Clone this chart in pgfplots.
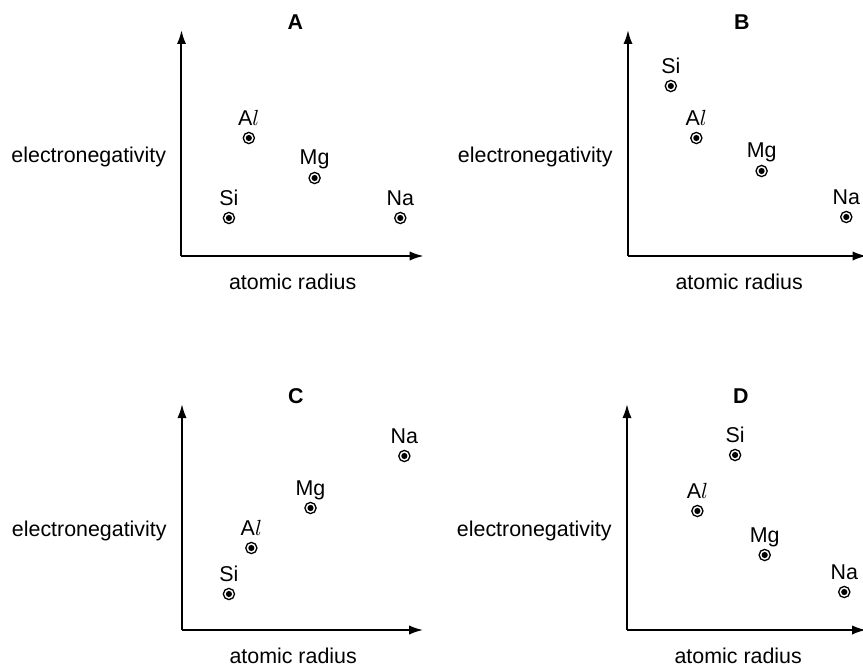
\documentclass[border=0pt]{standalone}
\usepackage{fontspec}
\setmainfont{Liberation Sans}
\usepackage{pgfplots}
\pgfplotsset{compat=1.18}
\usetikzlibrary{arrows.meta}

% ring with a filled dot in the middle
\pgfdeclareplotmark{ringdot}{%
  \pgfpathcircle{\pgfpointorigin}{\pgfplotmarksize}\pgfusepathqstroke
  \pgfpathcircle{\pgfpointorigin}{0.55\pgfplotmarksize}\pgfusepathqfill}

\newcommand{\lbl}{\fontsize{10.7}{12}\selectfont}

\pgfplotsset{
  panel/.style={
    scale only axis, width=117.5pt, height=112.5pt,
    xmin=0, xmax=235, ymin=0, ymax=225,
    axis lines=none, xtick=\empty, ytick=\empty,
    clip=false,
  },
  elem/.style={
    only marks, black, mark=ringdot, mark size=2.8pt,
    mark options={line width=0.65pt},
    point meta=explicit symbolic, nodes near coords,
    every node near coord/.append style={anchor=base, yshift=6.5pt,
      inner sep=0pt, font=\lbl, black},
  },
}

% axes with arrows, title and the two axis labels
\newcommand{\decor}[2]{%
  \draw[line width=1pt, -{Latex[length=7pt,width=4.6pt]}]
    (axis cs:0,0) -- (axis cs:#2,0);
  \draw[line width=1pt, -{Latex[length=7pt,width=4.6pt]}]
    (axis cs:0,0) -- (axis cs:0,226);
  \node[anchor=base, font=\lbl\bfseries, inner sep=0pt, yshift=1pt] at (axis cs:111.5,225) {#1};
  \node[anchor=east, font=\lbl, inner sep=0pt, xshift=-7.5pt] at (axis cs:0,99) {electronegativity};
  \node[anchor=center, font=\lbl, inner sep=0pt, yshift=-13pt] at (axis cs:109,0) {atomic radius};
}

\begin{document}
\begin{tikzpicture}
\useasboundingbox (0,0) rectangle (431.5pt,333pt);

% A
\begin{axis}[panel, at={(90.75pt,205pt)}]
\decor{A}{237.5}
\addplot[elem] coordinates {(66,118) [A$l$] (130.5,78) [Mg] (46.5,38) [Si] (214.5,38) [Na]};
\end{axis}

% B
\begin{axis}[panel, at={(314pt,205pt)}]
\decor{B}{234}
\addplot[elem] coordinates {(42,170) [Si] (67,118) [A$l$] (131,85) [Mg] (214,39) [Na]};
\end{axis}

% C
\begin{axis}[panel, at={(91pt,18pt)}]
\decor{C}{236.5}
\addplot[elem] coordinates {(46,36) [Si] (68,82) [A$l$] (126,122) [Mg] (218,174) [Na]};
\end{axis}

% D
\begin{axis}[panel, at={(313.5pt,18pt)}]
\decor{D}{234.5}
\addplot[elem] coordinates {(106,175) [Si] (69,119) [A$l$] (135,75) [Mg] (213,38) [Na]};
\end{axis}
\end{tikzpicture}
\end{document}
